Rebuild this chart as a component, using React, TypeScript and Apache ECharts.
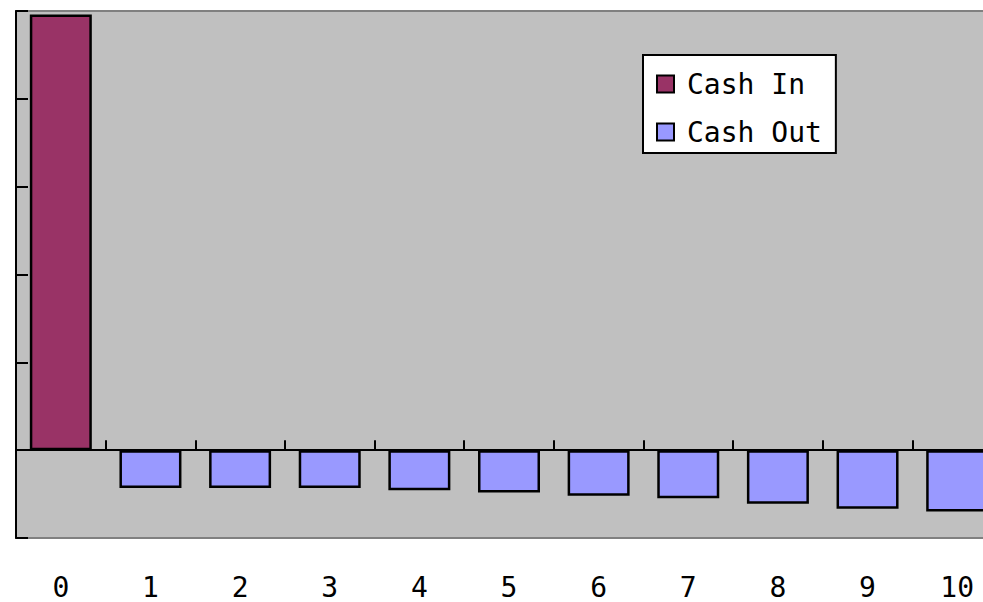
import React, { useEffect, useRef } from "react";
import * as echarts from "echarts";

const categories = ["0", "1", "2", "3", "4", "5", "6", "7", "8", "9", "10"];
const cashIn: (number | null)[] = [4960, null, null, null, null, null, null, null, null, null, null];
const cashOut: (number | null)[] = [null, -430, -430, -430, -455, -482, -520, -547, -611, -668, -698];
const legendNames = ["Cash In", "Cash Out"];

const FONT = "'DejaVu Sans Mono', monospace";

export default function App() {
  const ref = useRef<HTMLDivElement>(null);
  useEffect(() => {
    if (!ref.current) return;
    const chart = echarts.init(ref.current, undefined, { renderer: "svg" });
    chart.setOption({
      animation: false,
      backgroundColor: "#FFFFFF",
      grid: {
        left: 16,
        top: 11,
        width: 986,
        height: 527,
        outerBoundsMode: "none",
        containLabel: false,
        show: true,
        backgroundColor: "#C0C0C0",
        borderColor: "#808080",
        borderWidth: 2,
      },
      legend: {
        orient: "vertical",
        left: 643,
        top: 55,
        padding: [15, 14, 7, 13],
        itemGap: 20,
        itemWidth: 17,
        itemHeight: 17,
        backgroundColor: "#FFFFFF",
        borderColor: "#000000",
        borderWidth: 2,
        borderRadius: 0,
        data: legendNames.map((n) => ({ name: n, icon: "rect" })),
        textStyle: { fontFamily: FONT, fontSize: 28, color: "#000", padding: [0, 0, 0, 8] },
      },
      xAxis: [
        {
          type: "category",
          data: categories,
          position: "bottom",
          axisLine: { onZero: true, lineStyle: { color: "#000", width: 2 } },
          axisTick: { show: true, inside: true, length: 10, lineStyle: { color: "#000", width: 2 } },
          axisLabel: { show: false },
          splitLine: { show: false },
        },
        {
          type: "category",
          data: categories,
          position: "bottom",
          axisLine: { show: false, onZero: false },
          axisTick: { show: false },
          axisLabel: { show: true, margin: 35, fontFamily: FONT, fontSize: 28, color: "#000" },
          splitLine: { show: false },
        },
      ],
      yAxis: {
        type: "value",
        min: -1000,
        max: 5000,
        interval: 1000,
        axisLine: { show: true, onZero: false, lineStyle: { color: "#000", width: 2 } },
        axisTick: { show: true, inside: true, length: 12, lineStyle: { color: "#000", width: 2 } },
        axisLabel: { show: false },
        splitLine: { show: false },
      },
      series: [
        {
          name: "Cash In",
          type: "bar",
          stack: "cash",
          xAxisIndex: 0,
          data: cashIn,
          barWidth: 62,
          itemStyle: { color: "#993366", borderColor: "#000", borderWidth: 2.5 },
        },
        {
          name: "Cash Out",
          type: "bar",
          stack: "cash",
          xAxisIndex: 0,
          data: cashOut,
          barWidth: 62,
          itemStyle: { color: "#9999FF", borderColor: "#000", borderWidth: 2.5 },
        },
      ],
    });
    return () => chart.dispose();
  }, []);
  return (
    <div
      ref={ref}
      style={{ position: "absolute", left: 0, top: 0, width: 983, height: 602 }}
    />
  );
}
